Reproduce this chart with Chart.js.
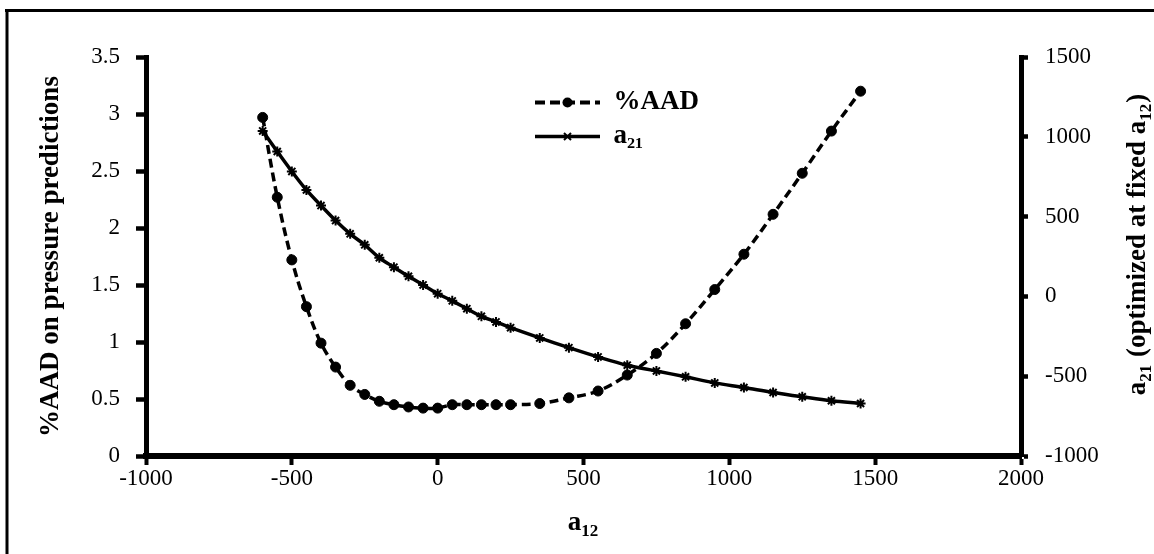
<!DOCTYPE html>
<html>
<head>
<meta charset="utf-8">
<script src="https://cdn.jsdelivr.net/npm/chart.js@4.4.1/dist/chart.umd.min.js"></script>
<style>
  html, body { margin: 0; padding: 0; background: #fff; }
  canvas { display: block; }
</style>
</head>
<body>
<canvas id="chart" width="1154" height="554"></canvas>
<script>
// Fixed a12 values at which a21 was optimized
const a12Values = [-600, -550, -500, -450, -400, -350, -300, -250, -200, -150, -100, -50, 0, 50, 100, 150, 200, 250, 350, 450, 550, 650, 750, 850, 950, 1050, 1150, 1250, 1350, 1450];
// %AAD on pressure predictions (left axis)
const aadPercent = [2.97, 2.27, 1.72, 1.31, 0.99, 0.78, 0.62, 0.54, 0.48, 0.45, 0.43, 0.42, 0.42, 0.45, 0.45, 0.45, 0.45, 0.45, 0.46, 0.51, 0.57, 0.71, 0.90, 1.16, 1.46, 1.77, 2.12, 2.48, 2.85, 3.20];
// Optimized a21 (right axis)
const a21Values = [1037, 908, 783, 667, 569, 475, 392, 323, 242, 183, 126, 72, 17, -28, -77, -125, -160, -196, -260, -321, -379, -431, -467, -504, -542, -571, -602, -629, -654, -671];

// Tick positions
const xTickValues = [-1000, -500, 0, 500, 1000, 1500, 2000];
const leftTickValues = [0, 0.5, 1, 1.5, 2, 2.5, 3, 3.5];
const rightTickValues = [-1000, -500, 0, 500, 1000, 1500];

const SERIF = "'Liberation Serif', 'Times New Roman', serif";
const tickFont = { family: SERIF, size: 23 };
const titleFont = { family: SERIF, size: 27, weight: 'bold' };

const setTicks = (values) => (scale) => { scale.ticks = values.map(v => ({ value: v })); };

// Draws a string made of normal and subscript runs, centred on (x, y)
function drawRuns(ctx, runs, x, y, rotation) {
  const mainFont = 'bold 27px ' + SERIF;
  const subFont = 'bold 17px ' + SERIF;
  ctx.save();
  ctx.translate(x, y);
  ctx.rotate(rotation);
  ctx.fillStyle = '#000';
  ctx.textAlign = 'left';
  ctx.textBaseline = 'alphabetic';
  let total = 0;
  runs.forEach(r => { ctx.font = r.sub ? subFont : mainFont; total += ctx.measureText(r.t).width + (r.sub ? 1 : 0); });
  let cx = -total / 2;
  runs.forEach(r => {
    ctx.font = r.sub ? subFont : mainFont;
    ctx.fillText(r.t, cx, r.sub ? 6 : 0);
    cx += ctx.measureText(r.t).width + (r.sub ? 1 : 0);
  });
  ctx.restore();
}

const xTitleRuns = [{ t: 'a' }, { t: '12', sub: true }];
const rightTitleRuns = [{ t: 'a' }, { t: '21', sub: true }, { t: ' (optimized at fixed a' }, { t: '12', sub: true }, { t: ')' }];

const LEGEND_LINE = 65;

const framePlugin = {
  id: 'frame',
  beforeDraw(chart) {
    const ctx = chart.ctx;
    ctx.save();
    ctx.fillStyle = '#fff';
    ctx.fillRect(0, 0, chart.width, chart.height);
    ctx.strokeStyle = '#000';
    ctx.lineWidth = 3;
    ctx.beginPath();
    ctx.moveTo(5, 10.5);
    ctx.lineTo(chart.width, 10.5);
    ctx.moveTo(7, 9);
    ctx.lineTo(7, chart.height);
    ctx.stroke();
    ctx.restore();
  }
};

const legendPlacement = {
  id: 'legendPlacement',
  afterLayout(chart) {
    const lg = chart.legend;
    if (!lg) return;
    const w = lg.width, h = lg.height;
    lg.left = 528; lg.top = 82;
    lg.right = lg.left + w; lg.bottom = lg.top + h;
  },
  afterDraw(chart) {
    const lg = chart.legend;
    if (!lg || !lg.legendHitBoxes) return;
    const ctx = chart.ctx;
    ctx.save();
    ctx.fillStyle = '#000';
    ctx.strokeStyle = '#000';
    lg.legendHitBoxes.forEach((hb, i) => {
      const cx = hb.left + LEGEND_LINE / 2;
      const cy = hb.top + 27 / 2;
      ctx.beginPath();
      if (i === 0) {
        ctx.arc(cx, cy, 5, 0, Math.PI * 2);
        ctx.fill();
      } else {
        const r = 5;
        ctx.lineWidth = 2;
        ctx.moveTo(cx - r, cy); ctx.lineTo(cx + r, cy);
        ctx.moveTo(cx - r * 0.7, cy - r * 0.7); ctx.lineTo(cx + r * 0.7, cy + r * 0.7);
        ctx.moveTo(cx - r * 0.7, cy + r * 0.7); ctx.lineTo(cx + r * 0.7, cy - r * 0.7);
        ctx.stroke();
      }
    });
    ctx.restore();
  }
};

const titlesPlugin = {
  id: 'subscriptTitles',
  afterDraw(chart) {
    const ca = chart.chartArea;
    drawRuns(chart.ctx, xTitleRuns, (ca.left + ca.right) / 2, 530, 0);
    drawRuns(chart.ctx, rightTitleRuns, 1145, (ca.top + ca.bottom) / 2 - 12, -Math.PI / 2);
  }
};

new Chart(document.getElementById('chart'), {
  type: 'line',
  data: {
    datasets: [
      {
        label: '%AAD',
        data: a12Values.map((x, i) => ({ x, y: aadPercent[i] })),
        yAxisID: 'y',
        borderColor: '#000',
        backgroundColor: '#000',
        borderWidth: 3.5,
        borderDash: [9, 5],
        tension: 0.35,
        pointStyle: 'circle',
        pointRadius: 5,
        pointBorderWidth: 1,
        pointBackgroundColor: '#000',
        pointBorderColor: '#000'
      },
      {
        label: 'a21',
        data: a12Values.map((x, i) => ({ x, y: a21Values[i] })),
        yAxisID: 'y2',
        borderColor: '#000',
        backgroundColor: '#000',
        borderWidth: 3.5,
        tension: 0.35,
        pointStyle: 'star',
        pointRadius: 5,
        pointBorderWidth: 2,
        pointBackgroundColor: '#000',
        pointBorderColor: '#000'
      }
    ]
  },
  options: {
    responsive: false,
    animation: false,
    devicePixelRatio: 1,
    layout: { padding: { top: 57, left: 0, right: 0, bottom: 0 } },
    plugins: {
      tooltip: { enabled: false },
      legend: {
        position: 'chartArea',
        align: 'start',
        labels: {
          usePointStyle: true,
          pointStyleWidth: LEGEND_LINE,
          font: titleFont,
          color: '#000',
          padding: 7,
          generateLabels: () => [
            { text: '%AAD', pointStyle: 'line', lineDash: [10, 5], lineWidth: 4, strokeStyle: '#000', fillStyle: '#000', fontColor: '#000', datasetIndex: 0, hidden: false },
            { text: 'a\u2082\u2081', pointStyle: 'line', lineDash: [], lineWidth: 3.5, strokeStyle: '#000', fillStyle: '#000', fontColor: '#000', datasetIndex: 1, hidden: false }
          ]
        }
      }
    },
    scales: {
      x: {
        type: 'linear',
        position: 'bottom',
        min: -1000,
        max: 2000,
        afterBuildTicks: setTicks(xTickValues),
        afterFit: (s) => { s.height = 98; },
        ticks: { font: tickFont, color: '#000', padding: 0, maxRotation: 0, autoSkip: false, callback: (v) => String(v) },
        grid: { display: true, drawOnChartArea: false, drawTicks: true, tickLength: 9, tickWidth: 4, tickColor: '#000' },
        border: { display: true, color: '#000', width: 6 }
      },
      y: {
        type: 'linear',
        position: 'left',
        min: 0,
        max: 3.5,
        afterBuildTicks: setTicks(leftTickValues),
        afterFit: (s) => { s.width = 146; },
        ticks: { font: tickFont, color: '#000', padding: 16, autoSkip: false, callback: (v) => String(v) },
        grid: { display: true, drawOnChartArea: false, drawTicks: true, tickLength: 10, tickWidth: 4.5, tickColor: '#000' },
        border: { display: true, color: '#000', width: 5 },
        title: { display: true, text: '%AAD on pressure predictions', font: titleFont, color: '#000', padding: { top: 35, bottom: 0 } }
      },
      y2: {
        type: 'linear',
        position: 'right',
        min: -1000,
        max: 1500,
        afterBuildTicks: setTicks(rightTickValues),
        afterFit: (s) => { s.width = 133; },
        ticks: { font: tickFont, color: '#000', padding: 17, autoSkip: false, callback: (v) => String(v) },
        grid: { display: true, drawOnChartArea: false, drawTicks: true, tickLength: 7, tickWidth: 4.5, tickColor: '#000' },
        border: { display: true, color: '#000', width: 5 }
      }
    }
  },
  plugins: [framePlugin, legendPlacement, titlesPlugin]
});
</script>
</body>
</html>
